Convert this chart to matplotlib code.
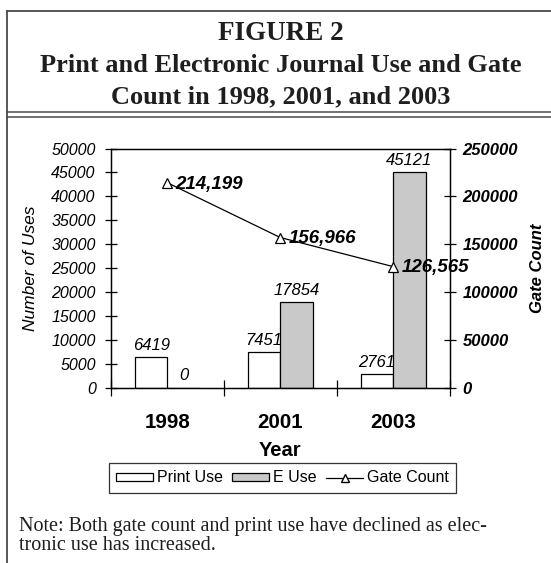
import matplotlib
matplotlib.use("Agg")
import matplotlib.pyplot as plt
from matplotlib.lines import Line2D
from matplotlib.patches import Patch
import numpy as np

years = ["1998", "2001", "2003"]
print_use = [6419, 7451, 2761]
e_use = [0, 17854, 45121]
gate_count = [214199, 156966, 126565]
gate_labels = ["214,199", "156,966", "126,565"]
left_ticks = [0, 5000, 10000, 15000, 20000, 25000, 30000, 35000, 40000, 45000, 50000]
right_ticks = [0, 50000, 100000, 150000, 200000, 250000]

W, H = 551, 563
fig = plt.figure(figsize=(W / 100, H / 100), dpi=100)
SANS = "Liberation Sans"
SERIF = "Liberation Serif"
plt.rcParams["font.family"] = SANS

def fx(px):
    return px / W

def fy(py):
    return 1 - py / H

# frame lines
frame_col = "#4a4a4a"
fig.add_artist(Line2D([fx(7), 1], [fy(11), fy(11)], color=frame_col, lw=1.3))
fig.add_artist(Line2D([fx(7), fx(7)], [fy(11), 0], color=frame_col, lw=1.3))
fig.add_artist(Line2D([fx(7), 1], [fy(112), fy(112)], color=frame_col, lw=1.1))
fig.add_artist(Line2D([fx(7), 1], [fy(116.5), fy(116.5)], color=frame_col, lw=1.1))

# titles
tc = 281
fig.text(fx(tc), fy(34), "FIGURE 2", family=SERIF, weight="bold", fontsize=19.5, ha="center", va="center", color="#1e1e1e")
fig.text(fx(tc), fy(65.5), "Print and Electronic Journal Use and Gate", family=SERIF, weight="bold", fontsize=19, ha="center", va="center", color="#1e1e1e")
fig.text(fx(tc), fy(97), "Count in 1998, 2001, and 2003", family=SERIF, weight="bold", fontsize=19, ha="center", va="center", color="#1e1e1e")

# axes
left, right, top, bottom = 111, 449.5, 148.5, 387.7
ax = fig.add_axes([fx(left), fy(bottom), (right - left) / W, (bottom - top) / H])
x = np.arange(len(years))
w = 0.288
ax.bar(x - w / 2, print_use, w, color="white", edgecolor="black", linewidth=0.9, zorder=2)
ax.bar(x + w / 2, e_use, w, color="#c9c9c9", edgecolor="black", linewidth=0.9, zorder=2)
ax.set_xlim(-0.5, 2.5)
ax.set_ylim(0, 50000)
ax.set_yticks(left_ticks, labels=[str(t) for t in left_ticks], fontsize=11.5, fontstyle="italic")
ax.tick_params(axis="y", direction="inout", length=9, width=0.9, pad=6.5)
ax.set_xticks(x, labels=years, fontsize=14.8, fontweight="bold")
ax.tick_params(axis="x", which="major", length=0, pad=18)
ax.set_xticks([-0.5, 0.5, 1.5, 2.5], minor=True)
ax.tick_params(axis="x", which="minor", direction="inout", length=12, width=0.9)
for s in ax.spines.values():
    s.set_linewidth(1.0)
ax.set_ylabel("Number of Uses", fontsize=12.5, fontstyle="italic", va="center")
ax.yaxis.set_label_coords((31 - left) / (right - left), 0.5)
ax.set_xlabel("Year", fontsize=14.5, fontweight="bold")
ax.xaxis.set_label_coords(0.5, (bottom - 450) / (bottom - top))
ax.xaxis.label.set_va("center")

for xi, v in zip(x, print_use):
    ax.annotate(str(v), (xi - w / 2, v), xytext=(0, 8.5), textcoords="offset points",
                ha="center", va="center", fontsize=12, fontstyle="italic")
for xi, v in zip(x, e_use):
    ax.annotate(str(v), (xi + w / 2, v), xytext=(0, 8.5), textcoords="offset points",
                ha="center", va="center", fontsize=12, fontstyle="italic")

ax2 = ax.twinx()
ax2.set_ylim(0, 250000)
ax2.plot(x, gate_count, color="black", lw=0.9, marker="^", markersize=7,
         markerfacecolor="white", markeredgecolor="black", markeredgewidth=0.9, zorder=3)
ax2.set_yticks(right_ticks, labels=[str(t) for t in right_ticks], fontsize=12,
               fontstyle="italic", fontweight="bold")
ax2.tick_params(axis="y", direction="inout", length=9, width=0.9, pad=5)
ax2.set_ylabel("Gate Count", fontsize=12, fontstyle="italic", fontweight="bold", va="center")
ax2.yaxis.set_label_coords((537 - left) / (right - left), 0.5)
for xi, v, lab in zip(x, gate_count, gate_labels):
    ax2.annotate(lab, (xi, v), xytext=(6, -1), textcoords="offset points",
                 ha="left", va="center", fontsize=13.5, fontstyle="italic", fontweight="bold")

handles = [Patch(facecolor="white", edgecolor="black", linewidth=0.9, label="Print Use"),
           Patch(facecolor="#c9c9c9", edgecolor="black", linewidth=0.9, label="E Use"),
           Line2D([], [], color="black", lw=0.9, marker="^", markersize=6,
                  markerfacecolor="white", markeredgecolor="black", label="Gate Count")]
leg = fig.legend(handles=handles, loc="center", bbox_to_anchor=(fx(282.5), fy(478)),
                 ncol=3, fontsize=11.5, frameon=True, fancybox=False, edgecolor="black",
                 handlelength=2.3, handleheight=0.45, handletextpad=0.25, columnspacing=0.6,
                 borderpad=0.45, borderaxespad=0)
leg.get_frame().set_linewidth(0.9)

fig.text(fx(19), fy(526), "Note: Both gate count and print use have declined as elec-",
         family=SERIF, fontsize=14.5, ha="left", va="center", color="#1e1e1e")
fig.text(fx(19), fy(546), "tronic use has increased.",
         family=SERIF, fontsize=14.5, ha="left", va="center", color="#1e1e1e")

fig.savefig("out.png", dpi=100)
